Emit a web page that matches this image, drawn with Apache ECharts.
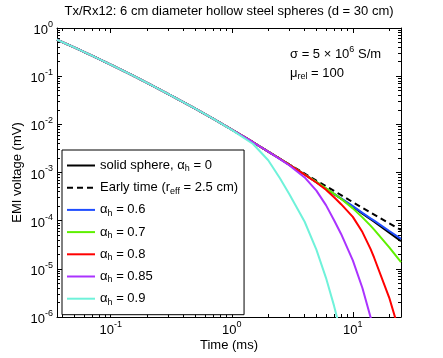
<!DOCTYPE html>
<html>
<head>
<meta charset="utf-8">
<script src="https://cdn.jsdelivr.net/npm/echarts@6/dist/echarts.min.js"></script>
<style>
  html, body { margin: 0; padding: 0; background: #fff; }
  #main { width: 443px; height: 358px; }
</style>
</head>
<body>
<div id="main"></div>
<script>
"use strict";

// time samples (ms), shared by every curve
var timeMs = [0.036, 0.05, 0.07, 0.1, 0.15, 0.2, 0.3, 0.5, 0.7, 1, 1.5, 2, 2.5, 3, 4, 5, 6, 7, 8, 10, 12, 14, 15, 20, 25];

// EMI voltage (mV)
var solidSphere = [0.571, 0.395, 0.267, 0.174, 0.105, 0.0726, 0.0425, 0.0211, 0.0131, 0.00779, 0.00425, 0.00272, 0.00193, 0.00144, 9.09e-4, 6.29e-4, 4.63e-4, 3.57e-4, 2.85e-4, 1.94e-4, 1.40e-4, 1.07e-4, 9.53e-5, 5.66e-5, 3.77e-5];
var earlyTime = [0.571, 0.395, 0.267, 0.174, 0.105, 0.0726, 0.0425, 0.0211, 0.0131, 0.00779, 0.00425, 0.00272, 0.00193, 0.00146, 9.5e-4, 6.8e-4, 5.2e-4, 4.15e-4, 3.4e-4, 2.42e-4, 1.85e-4, 1.48e-4, 1.34e-4, 8.8e-5, 6.4e-5];
var alpha06 = [0.571, 0.395, 0.267, 0.174, 0.105, 0.0726, 0.0425, 0.0211, 0.0131, 0.00779, 0.00425, 0.00272, 0.00193, 0.00144, 9.1e-4, 6.3e-4, 4.65e-4, 3.6e-4, 2.9e-4, 2.0e-4, 1.45e-4, 1.12e-4, 1.0e-4, 6.1e-5, 4.2e-5];
var alpha07 = [0.571, 0.395, 0.267, 0.174, 0.105, 0.0726, 0.0425, 0.0211, 0.0131, 0.00779, 0.00425, 0.00272, 0.00193, 0.00144, 9.1e-4, 6.4e-4, 4.7e-4, 3.6e-4, 2.85e-4, 1.8e-4, 1.17e-4, 7.9e-5, 6.5e-5, 2.8e-5, 1.38e-5];
var alpha08 = [0.571, 0.395, 0.267, 0.174, 0.105, 0.0726, 0.0425, 0.0211, 0.0131, 0.00779, 0.00425, 0.00272, 0.00193, 0.00144, 9.0e-4, 6.2e-4, 4.4e-4, 3.05e-4, 2.2e-4, 1.2e-4, 5.8e-5, 2.6e-5, 1.7e-5, 2.5e-6, 3.8e-7];
var alpha085 = [0.571, 0.395, 0.267, 0.174, 0.105, 0.0726, 0.0425, 0.0211, 0.0131, 0.00779, 0.00425, 0.00272, 0.00190, 0.00140, 7.9e-4, 4.2e-4, 2.1e-4, 1.02e-4, 5.3e-5, 1.5e-5, 4.0e-6, 1.0e-6, 5.2e-7, null, null];
var alpha09 = [0.571, 0.395, 0.267, 0.174, 0.105, 0.0726, 0.0425, 0.0211, 0.0131, 0.0077, 0.0039, 0.0018, 7.6e-4, 3.5e-4, 9.5e-5, 2.5e-5, 6.5e-6, 1.7e-6, 4.5e-7, null, null, null, null, null, null];

var seriesNames = ["solid", "early", "a06", "a07", "a08", "a085", "a09"];
var legendText = [
  "{t|solid sphere, α}{sub|h}{t| = 0}",
  "{t|Early time (r}{sub|eff}{t| = 2.5 cm)}",
  "{t|α}{sub|h}{t| = 0.6}",
  "{t|α}{sub|h}{t| = 0.7}",
  "{t|α}{sub|h}{t| = 0.8}",
  "{t|α}{sub|h}{t| = 0.85}",
  "{t|α}{sub|h}{t| = 0.9}"
];

var xMajorTicks = [0.1, 1, 10];
var yMajorTicks = [1e-6, 1e-5, 1e-4, 1e-3, 1e-2, 1e-1, 1];

var xMin = 0.036, xMax = 25;
var yMin = 1e-6, yMax = 1;

function minorTicks(lo, hi) {
  var out = [];
  for (var e = -7; e <= 2; e++) {
    for (var m = 2; m <= 9; m++) {
      var v = m * Math.pow(10, e);
      if (v >= lo && v <= hi) out.push(v);
    }
  }
  return out;
}

var font = "Liberation Sans, Arial, Helvetica, sans-serif";

var tickRich = {
  b: { fontSize: 13, color: "#000", fontFamily: font, padding: [5, 0, 0, 0] },
  s: { fontSize: 9, color: "#000", fontFamily: font, padding: [0, 0, 7, 0] }
};

function powLabel(v) {
  var e = Math.round(Math.log10(v));
  return "{b|10}{s|" + e + "}";
}

function logAxis(dim, position, ticks, len, labelled, lined) {
  var isX = dim === "x";
  var ax = {
    type: "log",
    logBase: 10,
    position: position,
    min: isX ? xMin : yMin,
    max: isX ? xMax : yMax,
    axisLine: { show: lined, onZero: false, lineStyle: { color: "#000", width: 1 } },
    axisTick: { show: true, inside: true, length: len, customValues: ticks, lineStyle: { color: "#000", width: 1 } },
    axisLabel: { show: false },
    splitLine: { show: false },
    minorTick: { show: false }
  };
  if (labelled) {
    ax.axisLabel = {
      show: true,
      customValues: isX ? xMajorTicks : yMajorTicks,
      margin: isX ? 2 : 4,
      formatter: powLabel,
      rich: tickRich
    };
    ax.nameLocation = "middle";
    ax.nameMoveOverlap = false;
    ax.nameTextStyle = { fontSize: 13, color: "#000", fontFamily: font };
    if (isX) {
      ax.name = "Time (ms)";
      ax.nameGap = 22;
    } else {
      ax.name = "EMI voltage (mV)";
      ax.nameGap = 33;
    }
  }
  return ax;
}

function curve(name, values, color, dashed) {
  return {
    name: name,
    type: "line",
    xAxisIndex: 0,
    yAxisIndex: 0,
    data: timeMs.map(function (t, i) { return [t, values[i]]; }),
    symbol: "none",
    showSymbol: false,
    smooth: false,
    connectNulls: false,
    clip: true,
    lineStyle: { color: color, width: 2, type: dashed ? [6, 4] : "solid" },
    itemStyle: { color: color },
    animation: false
  };
}

var chart = echarts.init(document.getElementById("main"), null, { renderer: "canvas" });

var option = {
  backgroundColor: "#fff",
  animation: false,
  title: {
    text: "Tx/Rx12: 6 cm diameter hollow steel spheres (d = 30 cm)",
    left: 229,
    textAlign: "center",
    top: 5,
    padding: 0,
    textStyle: { fontSize: 13, fontWeight: "normal", color: "#000", fontFamily: font }
  },
  grid: { left: 57, right: 42, top: 28, bottom: 41, containLabel: false, outerBoundsMode: "none" },
  xAxis: [
    logAxis("x", "bottom", xMajorTicks, 5, true, true),
    logAxis("x", "bottom", minorTicks(xMin, xMax), 3, false, false),
    logAxis("x", "top", xMajorTicks, 5, false, true),
    logAxis("x", "top", minorTicks(xMin, xMax), 3, false, false)
  ],
  yAxis: [
    logAxis("y", "left", yMajorTicks, 5, true, true),
    logAxis("y", "left", minorTicks(yMin, yMax), 3, false, false),
    logAxis("y", "right", yMajorTicks, 5, false, true),
    logAxis("y", "right", minorTicks(yMin, yMax), 3, false, false)
  ],
  legend: {
    data: seriesNames,
    orient: "vertical",
    left: 62,
    top: 150,
    padding: [9, 6, 8, 4],
    itemWidth: 28,
    itemHeight: 10,
    itemGap: 7.7,
    selectedMode: false,
    backgroundColor: "#fff",
    borderColor: "#000",
    borderWidth: 1,
    borderRadius: 0,
    itemStyle: { color: "transparent", borderColor: "transparent", borderWidth: 0 },
    formatter: function (name) { return legendText[seriesNames.indexOf(name)]; },
    textStyle: {
      color: "#000",
      fontSize: 13,
      fontFamily: font,
      rich: {
        t: { fontSize: 13, color: "#000", fontFamily: font },
        sub: { fontSize: 9, color: "#000", fontFamily: font, padding: [7, 0, 0, 0] }
      }
    }
  },
  graphic: [
    {
      type: "text",
      x: 290,
      y: 54,
      style: {
        text: "{t|σ = 5 × 10}{s|6}{t| S/m}",
        verticalAlign: "middle",
        rich: {
          t: { fontSize: 13, fill: "#000", fontFamily: font },
          s: { fontSize: 9, fill: "#000", fontFamily: font, padding: [0, 0, 8, 0] }
        }
      }
    },
    {
      type: "text",
      x: 290,
      y: 73,
      style: {
        text: "{t|μ}{s|rel}{t| = 100}",
        verticalAlign: "middle",
        rich: {
          t: { fontSize: 13, fill: "#000", fontFamily: font },
          s: { fontSize: 9, fill: "#000", fontFamily: font, padding: [8, 0, 0, 0] }
        }
      }
    }
  ],
  series: [
    curve(seriesNames[0], solidSphere, "#000000", false),
    curve(seriesNames[1], earlyTime, "#000000", true),
    curve(seriesNames[2], alpha06, "#1f4dff", false),
    curve(seriesNames[3], alpha07, "#5ef000", false),
    curve(seriesNames[4], alpha08, "#ff0000", false),
    curve(seriesNames[5], alpha085, "#aa33ff", false),
    curve(seriesNames[6], alpha09, "#6ff2da", false)
  ]
};

chart.setOption(option);
</script>
</body>
</html>
